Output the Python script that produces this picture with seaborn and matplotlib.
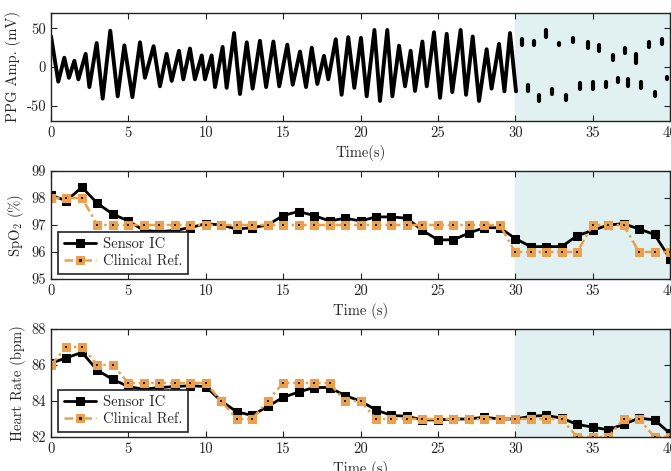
import numpy as np
import pandas as pd
import matplotlib
matplotlib.use('Agg')
import matplotlib.pyplot as plt
import seaborn as sns

ppg_t = [0.00, 0.47, 0.86, 1.16, 1.51, 1.77, 2.24, 2.48, 2.95, 3.34, 3.83, 4.31,
         4.74, 5.26, 5.75, 6.07, 6.63, 7.04, 7.47, 7.80, 8.27, 8.55, 8.98, 9.30,
         9.74, 9.95, 10.38, 10.60, 11.09, 11.35, 11.83, 12.21, 12.65, 13.03, 13.50,
         13.90, 14.37, 14.75, 15.27, 15.62, 16.09, 16.48, 16.85, 17.21, 17.64, 17.92,
         18.40, 18.78, 19.21, 19.60, 20.03, 20.40, 20.90, 21.26, 21.73, 22.06, 22.49,
         22.88, 23.24, 23.52, 24.00, 24.28, 24.75, 25.14, 25.57, 25.93, 26.47, 26.82,
         27.25, 27.66, 28.15, 28.47, 28.95, 29.30, 29.66, 30.05]
ppg_v = [40, -19, 12, -14, 8, -16, 17, -26, 31, -41, 47, -38,
         28, -39, 32, -14, 27, -25, 17, -18, 21, -16, 24, -16,
         15, -16, 15, -26, 26, -27, 44, -35, 32, -28, 34,
         -26, 33, -25, 29, -23, 20, -26, 25, -22, 14.5, -16,
         36, -36, 38.6, -27, 37.8, -38, 48, -44, 48, -38, 27.6,
         -25, 21, -31, 33, -25, 45, -40, 43, -32.5, 48, -36,
         39.5, -44, 23, -28, 30, -31.6, 44, -31.6]

# broken signal after 30 s: short fragments (time, top value, bottom value)
frag_t = [30.42, 31.21, 31.99, 32.85, 33.75, 34.72, 35.43, 36.34, 37.09, 37.80, 38.64, 39.46,
          30.85, 31.55, 32.40, 33.28, 34.18, 35.00, 35.86, 36.66, 37.30, 38.10, 39.03, 39.79]
frag_hi = [36, 34, 48, 31, 37, 33, 29, 16, 24, 17, 33, 36,
           -23, -36, -28, -36, -21, -19, -19, -14, -16, -19, -33, -13]
frag_lo = [29, 28, 39, 28, 32, 24, 21, 9, 18, 5, 26, 30,
           -31, -44, -35, -43, -28, -28, -26, -20, -25, -27, -38, -15]

time_s = list(range(41))
spo2_sensor = [98.1, 97.9, 98.4, 97.8, 97.4, 97.15, 96.8, 96.75, 96.8, 96.9, 97.05,
               97.0, 96.85, 96.9, 97.0, 97.35, 97.5, 97.35, 97.15, 97.25, 97.15,
               97.3, 97.3, 97.25, 96.8, 96.45, 96.45, 96.7, 96.9, 96.9, 96.5,
               96.2, 96.2, 96.2, 96.6, 96.8, 97.0, 97.05, 96.85, 96.65, 95.75]
spo2_clin = [98, 98, 98, 97, 97, 97, 97, 97, 97, 97, 97,
             97, 97, 97, 97, 97, 97, 97, 97, 97, 97,
             97, 97, 97, 97, 97, 97, 97, 97, 97, 96,
             96, 96, 96, 96, 97, 97, 97, 96, 96, 96]
hr_sensor = [86.1, 86.4, 86.7, 85.7, 85.2, 84.8, 84.65, 84.75, 84.8, 84.85, 84.8,
             84.0, 83.4, 83.2, 83.7, 84.2, 84.5, 84.75, 84.75, 84.3, 84.0,
             83.5, 83.2, 83.15, 82.95, 82.95, 83.0, 83.0, 83.1, 83.0, 83.0,
             83.15, 83.2, 83.05, 82.7, 82.55, 82.4, 82.7, 83.05, 82.95, 82.2]
hr_clin = [86, 87, 87, 86, 86, 85, 85, 85, 85, 85, 85,
           84, 83, 83, 84, 85, 85, 85, 85, 84, 84,
           83, 83, 83, 83, 83, 83, 83, 83, 83, 83,
           83, 83, 83, 82, 82, 82, 83, 83, 82, 82]

ORANGE = '#eba04e'
SHADE = '#e1f0f0'

sns.set_style('ticks')
plt.rcParams.update({
    'font.family': 'serif',
    'font.serif': ['cmr10'],
    'mathtext.fontset': 'cm',
    'axes.unicode_minus': False,
    'axes.formatter.use_mathtext': False,
    'font.size': 10.5,
})

fig = plt.figure(figsize=(6.71, 4.71), dpi=100)
left, width, height = 51 / 671, 619 / 671, 108 / 471
ax1 = fig.add_axes([left, 1 - 121 / 471, width, height])
ax2 = fig.add_axes([left, 1 - 279 / 471, width, height])
ax3 = fig.add_axes([left, 1 - 437 / 471, width, height])


def style_axes(ax):
    ax.set_xlim(0, 40)
    ax.set_xticks(range(0, 41, 5))
    ax.tick_params(direction='in', top=True, right=True, length=4, width=0.8,
                   labelsize=10.5, colors='#222222')
    for sp in ax.spines.values():
        sp.set_linewidth(1.0)
        sp.set_color('#222222')
    ax.axvspan(30, 40, color=SHADE, zorder=0, lw=0)


# top: PPG
ppg_df = pd.DataFrame({'t': ppg_t, 'v': ppg_v})
sns.lineplot(data=ppg_df, x='t', y='v', ax=ax1, color='black', lw=2.8,
             sort=False, estimator=None, solid_joinstyle='round')
frag_df = pd.DataFrame({'t': frag_t + frag_t, 'v': frag_hi + frag_lo,
                        'seg': list(range(len(frag_t))) * 2})
sns.lineplot(data=frag_df, x='t', y='v', units='seg', estimator=None, ax=ax1,
             color='black', lw=3.0, solid_capstyle='round')
style_axes(ax1)
ax1.set_ylim(-70, 70)
ax1.set_yticks([-50, 0, 50])
ax1.set_xlabel('Time(s)')
ax1.set_ylabel('PPG Amp. (mV)')


def vitals(ax, sensor, clin):
    sns.lineplot(x=time_s, y=sensor, ax=ax, color='black', lw=2.0, marker='s',
                 markersize=5.5, markeredgecolor='black', label='Sensor IC')
    h_s = ax.lines[-1]
    sns.lineplot(x=time_s, y=clin, ax=ax, color=ORANGE, lw=1.8, marker='s',
                 markersize=6, markeredgecolor=ORANGE, markerfacecolor=ORANGE,
                 linestyle=(0, (3.5, 1.5, 1, 1.5)), label='Clinical Ref.')
    h_c = ax.lines[-1]
    sns.scatterplot(x=time_s, y=clin, ax=ax, color='#222222', marker='s', s=2,
                    linewidth=0, zorder=5)
    dot = plt.Line2D([], [], ls='none', marker='s', markersize=1.3, color='#222222')
    style_axes(ax)
    ax.set_xlabel('Time (s)')
    ax.legend([h_s, (h_c, dot)], ['Sensor IC', 'Clinical Ref.'], loc='lower left',
              bbox_to_anchor=(0.012, 0.05), borderaxespad=0, fancybox=False,
              framealpha=1, edgecolor='#222222', fontsize=10.5, handlelength=2.2,
              borderpad=0.35, labelspacing=0.25, handletextpad=0.5)
    ax.get_legend().get_frame().set_linewidth(1.2)


vitals(ax2, spo2_sensor, spo2_clin)
ax2.set_ylim(95, 99)
ax2.set_yticks([95, 96, 97, 98, 99])
ax2.set_ylabel('SpO$_2$ (%)')

vitals(ax3, hr_sensor, hr_clin)
ax3.set_ylim(82, 88)
ax3.set_yticks([82, 84, 86, 88])
ax3.set_ylabel('Heart Rate (bpm)')

fig.savefig('out.png', dpi=100)
